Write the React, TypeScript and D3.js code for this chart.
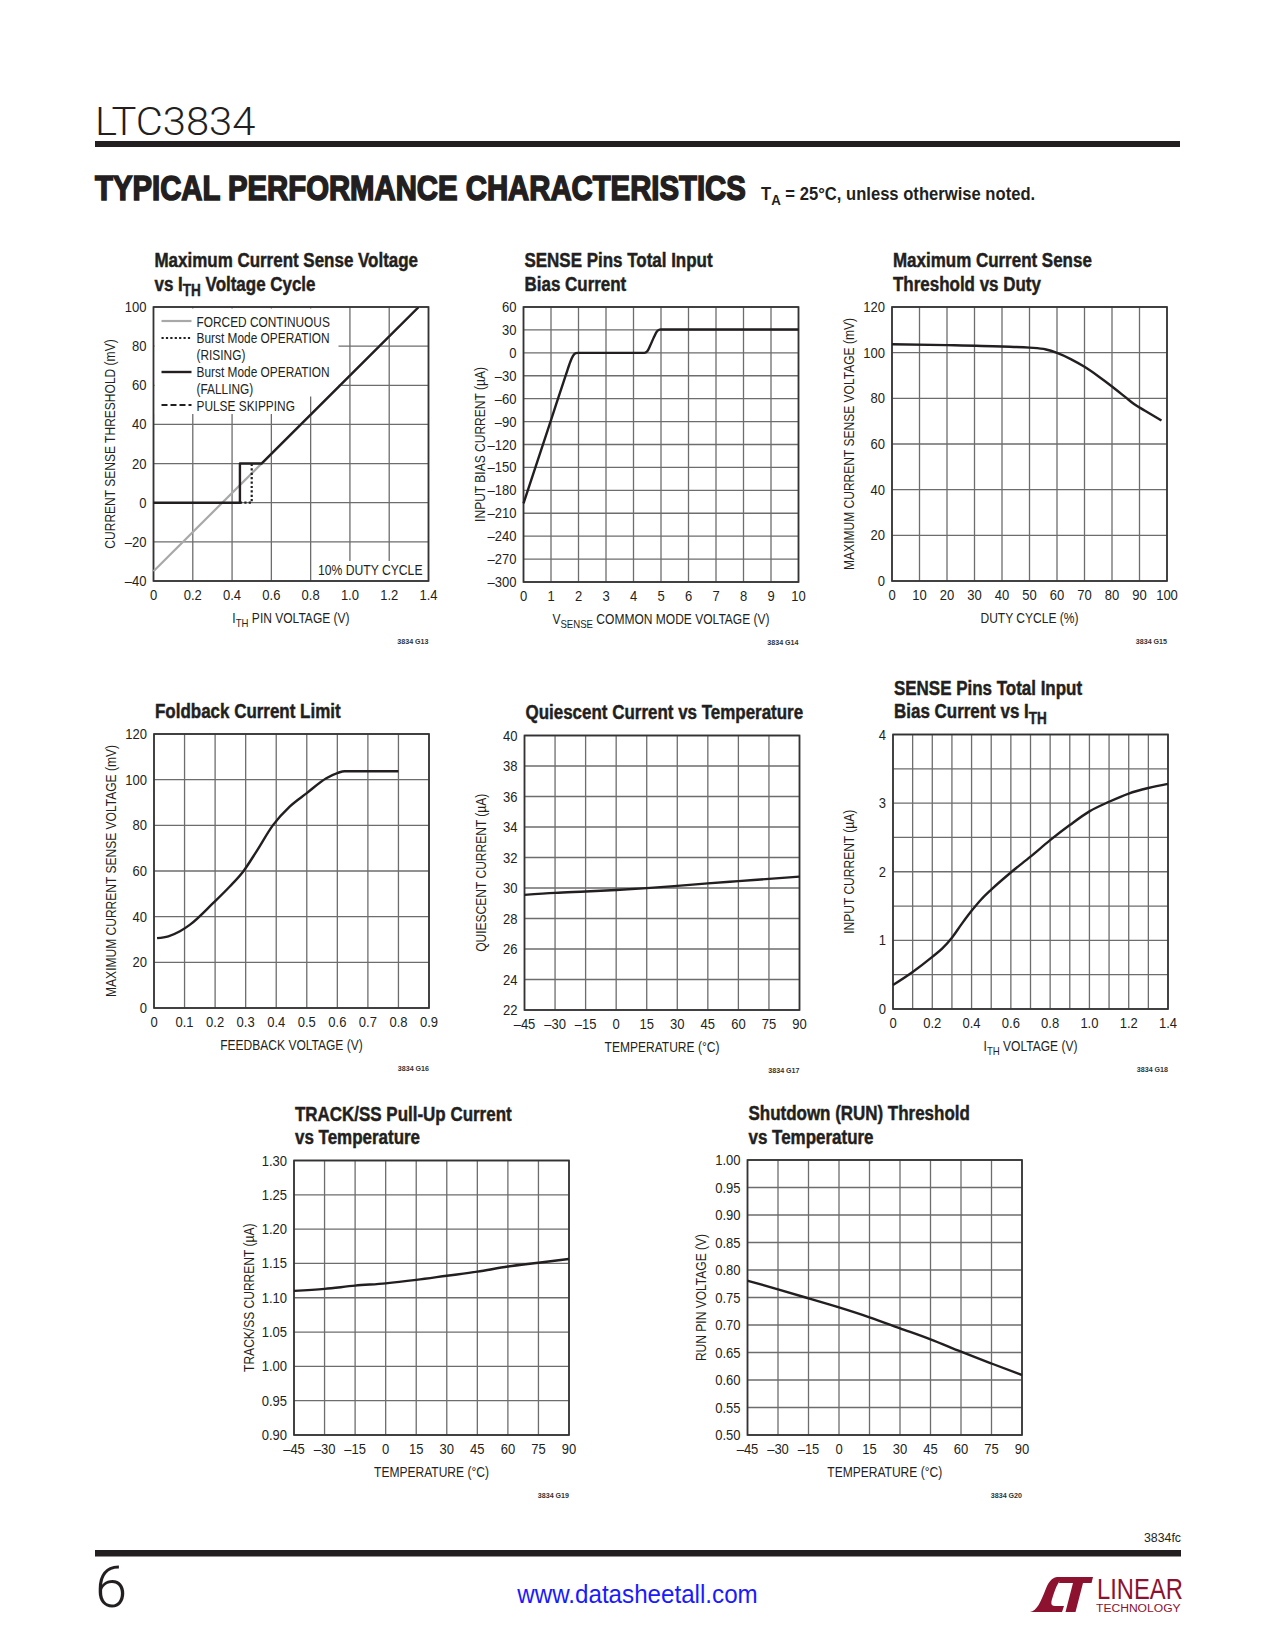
import React from 'react';
import * as d3 from 'd3';

const SANS = "'Liberation Sans', Arimo, Arial, Helvetica, sans-serif";
const INK = '#231f20';

// ---------- G13: Maximum Current Sense Voltage vs ITH ----------
const g13XTicks = [0, 0.2, 0.4, 0.6, 0.8, 1.0, 1.2, 1.4];
const g13XLabels = ['0', '0.2', '0.4', '0.6', '0.8', '1.0', '1.2', '1.4'];
const g13YTicks = [-40, -20, 0, 20, 40, 60, 80, 100];
const g13YLabels = ['–40', '–20', '0', '20', '40', '60', '80', '100'];
const g13ForcedV = [0, 1.35];
const g13ForcedMV = [-35, 100];
const g13FallV = [0, 0.44, 0.44, 0.55, 1.35];
const g13FallMV = [0, 0, 20, 20, 100];
const g13RiseV = [0.44, 0.5, 0.5];
const g13RiseMV = [0, 0, 20];
const g13Legend = ['FORCED CONTINUOUS', 'Burst Mode OPERATION', '(RISING)', 'Burst Mode OPERATION', '(FALLING)', 'PULSE SKIPPING'];

// ---------- G14: SENSE pins bias current vs VSENSE ----------
const g14XTicks = [0, 1, 2, 3, 4, 5, 6, 7, 8, 9, 10];
const g14XLabels = ['0', '1', '2', '3', '4', '5', '6', '7', '8', '9', '10'];
const g14YTicks = [-300, -270, -240, -210, -180, -150, -120, -90, -60, -30, 0, 30, 60];
const g14YLabels = ['–300', '–270', '–240', '–210', '–180', '–150', '–120', '–90', '–60', '–30', '0', '30', '60'];
const g14V = [0, 1, 1.55, 1.7, 1.8, 1.9, 2.0, 4.4, 4.5, 4.6, 4.75, 4.85, 4.95, 5.0, 10];
const g14I = [-197, -88, -28, -12, -4, -0.5, 0, 0, 2, 9, 21, 28, 30.3, 30.6, 30.6];

// ---------- G15: Max current sense threshold vs duty ----------
const g15XTicks = [0, 10, 20, 30, 40, 50, 60, 70, 80, 90, 100];
const g15XLabels = ['0', '10', '20', '30', '40', '50', '60', '70', '80', '90', '100'];
const g15YTicks = [0, 20, 40, 60, 80, 100, 120];
const g15YLabels = ['0', '20', '40', '60', '80', '100', '120'];
const g15Duty = [0, 20, 40, 50, 56, 60, 65, 70, 75, 80, 85, 88, 92, 98];
const g15MV = [103.7, 103.3, 102.7, 102.2, 101.4, 99.9, 97.2, 93.8, 89.7, 85.2, 80.4, 77.5, 74.6, 70.3];

// ---------- G16: Foldback current limit ----------
const g16XTicks = [0, 0.1, 0.2, 0.3, 0.4, 0.5, 0.6, 0.7, 0.8, 0.9];
const g16XLabels = ['0', '0.1', '0.2', '0.3', '0.4', '0.5', '0.6', '0.7', '0.8', '0.9'];
const g16YTicks = [0, 20, 40, 60, 80, 100, 120];
const g16YLabels = ['0', '20', '40', '60', '80', '100', '120'];
const g16Fb = [0.01, 0.047, 0.085, 0.118, 0.194, 0.248, 0.292, 0.335, 0.39, 0.444, 0.499, 0.564, 0.602, 0.624, 0.8];
const g16MV = [30.6, 31.4, 33.6, 36.5, 46, 53.2, 59.8, 68.5, 80.2, 88.2, 94, 100.6, 103, 103.7, 103.7];

// ---------- Temperature axis shared ----------
const tempTicks = [-45, -30, -15, 0, 15, 30, 45, 60, 75, 90];
const tempLabels = ['–45', '–30', '–15', '0', '15', '30', '45', '60', '75', '90'];

// ---------- G17: Quiescent current vs temperature ----------
const g17YTicks = [22, 24, 26, 28, 30, 32, 34, 36, 38, 40];
const g17YLabels = ['22', '24', '26', '28', '30', '32', '34', '36', '38', '40'];
const g17T = [-45, -30, -15, 0, 15, 30, 45, 60, 75, 90];
const g17I = [29.55, 29.68, 29.77, 29.87, 29.99, 30.14, 30.3, 30.45, 30.6, 30.75];

// ---------- G18: SENSE pins bias current vs ITH ----------
const g18XGrid = [0, 0.1, 0.2, 0.3, 0.4, 0.5, 0.6, 0.7, 0.8, 0.9, 1.0, 1.1, 1.2, 1.3, 1.4];
const g18XTicks = [0, 0.2, 0.4, 0.6, 0.8, 1.0, 1.2, 1.4];
const g18XLabels = ['0', '0.2', '0.4', '0.6', '0.8', '1.0', '1.2', '1.4'];
const g18YGrid = [0, 0.5, 1, 1.5, 2, 2.5, 3, 3.5, 4];
const g18YTicks = [0, 1, 2, 3, 4];
const g18YLabels = ['0', '1', '2', '3', '4'];
const g18V = [0, 0.1, 0.2, 0.25, 0.3, 0.35, 0.4, 0.45, 0.5, 0.6, 0.7, 0.8, 0.9, 1.0, 1.1, 1.2, 1.3, 1.4];
const g18I = [0.35, 0.54, 0.76, 0.88, 1.04, 1.24, 1.43, 1.6, 1.74, 1.99, 2.22, 2.46, 2.68, 2.88, 3.02, 3.14, 3.22, 3.28];

// ---------- G19: TRACK/SS pull-up current vs temperature ----------
const g19YTicks = [0.9, 0.95, 1.0, 1.05, 1.1, 1.15, 1.2, 1.25, 1.3];
const g19YLabels = ['0.90', '0.95', '1.00', '1.05', '1.10', '1.15', '1.20', '1.25', '1.30'];
const g19T = [-45, -30, -15, 0, 15, 30, 45, 60, 75, 90];
const g19I = [1.110, 1.113, 1.1176, 1.121, 1.126, 1.132, 1.138, 1.1455, 1.151, 1.1566];

// ---------- G20: RUN threshold vs temperature ----------
const g20YTicks = [0.5, 0.55, 0.6, 0.65, 0.7, 0.75, 0.8, 0.85, 0.9, 0.95, 1.0];
const g20YLabels = ['0.50', '0.55', '0.60', '0.65', '0.70', '0.75', '0.80', '0.85', '0.90', '0.95', '1.00'];
const g20T = [-45, -30, -15, 0, 15, 30, 45, 60, 75, 90];
const g20V = [0.7806, 0.7648, 0.7485, 0.732, 0.714, 0.694, 0.674, 0.6515, 0.630, 0.609];

type Seg = { t: string; sub?: boolean };
const s = (t: string, sub = false): Seg => ({ t, sub });

// Text drawn with a horizontal compression (condensed look) around its anchor point
function RichText(props: any) {
  const { segs, x, y, size, anchor = 'start', weight = 'normal', fill = INK, family = SANS,
    sx = 0.85, rotate = 0, dy, strokeW } = props;
  const sh = size * 0.3;
  let cur = 0;
  const tr = `translate(${x},${y})${rotate ? ` rotate(${rotate})` : ''} scale(${sx},1)`;
  return (
    <g transform={tr}>
      <text x={0} y={0} dy={dy} fontSize={size} textAnchor={anchor} fontWeight={weight} fill={fill}
        fontFamily={family} stroke={strokeW ? fill : undefined} strokeWidth={strokeW}>
        {segs.map((sg: Seg, i: number) => {
          const target = sg.sub ? sh : 0;
          const d = target - cur;
          cur = target;
          return (
            <tspan key={i} dy={d !== 0 ? d : undefined} fontSize={sg.sub ? size * 0.8 : undefined}>{sg.t}</tspan>
          );
        })}
      </text>
    </g>
  );
}

type SeriesDef = { x: number[]; y: number[]; color: string; width: number; dash?: string; smooth?: boolean };

function Chart(props: any) {
  const { px, py, w, h, xDom, yDom, xGrid, yGrid, xTicks, xLabels, yTicks, yLabels,
    title, xTitle, yTitle, fig, series, yTitleOff = 38.5, under, over } = props;
  const xs = d3.scaleLinear().domain(xDom).range([px, px + w]);
  const ys = d3.scaleLinear().domain(yDom).range([py + h, py]);
  const gridColor = '#6d6d6d';
  return (
    <g>
      {(xGrid || xTicks).map((v: number, i: number) => (
        <line key={'gx' + i} x1={xs(v)} x2={xs(v)} y1={py} y2={py + h} stroke={gridColor} strokeWidth={1.3} />
      ))}
      {(yGrid || yTicks).map((v: number, i: number) => (
        <line key={'gy' + i} x1={px} x2={px + w} y1={ys(v)} y2={ys(v)} stroke={gridColor} strokeWidth={1.3} />
      ))}
      {under ? under(xs, ys) : null}
      <rect x={px} y={py} width={w} height={h} fill="none" stroke="#333" strokeWidth={1.7} />
      {series.map((sr: SeriesDef, i: number) => {
        const pts: [number, number][] = sr.x.map((xv, k) => [xv, sr.y[k]]);
        const gen = d3.line<[number, number]>()
          .x((d) => xs(d[0]))
          .y((d) => ys(d[1]))
          .curve(sr.smooth ? d3.curveMonotoneX : d3.curveLinear);
        return (
          <path key={'s' + i} d={gen(pts) || ''} fill="none" stroke={sr.color} strokeWidth={sr.width}
            strokeDasharray={sr.dash} strokeLinejoin="round" />
        );
      })}
      {over ? over(xs, ys) : null}
      {yTicks.map((v: number, i: number) => (
        <RichText key={'yt' + i} segs={[s(yLabels[i])]} x={px - 7} y={ys(v)} dy="0.36em" anchor="end"
          size={14} sx={0.93} />
      ))}
      {xTicks.map((v: number, i: number) => (
        <RichText key={'xt' + i} segs={[s(xLabels[i])]} x={xs(v)} y={py + h + 19} anchor="middle"
          size={14} sx={0.93} />
      ))}
      <RichText segs={xTitle} x={px + w / 2} y={py + h + 41.5} size={14.5} sx={0.83} anchor="middle" />
      <RichText segs={yTitle} x={px - yTitleOff} y={py + h / 2} size={14.5} sx={0.83} anchor="middle" rotate={-90} />
      {title.map((line: Seg[], i: number) => (
        <RichText key={'t' + i} segs={line} x={px + 1} y={py - 16.5 - (title.length - 1 - i) * 23.3}
          size={19.5} sx={0.87} weight="bold" strokeW={0.45} />
      ))}
      <RichText segs={[s(fig)]} x={px + w} y={py + h + 63} anchor="end" size={7.5} sx={0.95}
        weight="bold" fill="#333" />
    </g>
  );
}

export default function App() {
  const tempDom = [-45, 90];
  const legendY = [326.5, 343, 360, 377, 393.5, 410.5];
  return (
    <svg width={1275} height={1650} viewBox="0 0 1275 1650"
      style={{ position: 'absolute', left: 0, top: 0, background: '#fff' }}>
      <rect x={0} y={0} width={1275} height={1650} fill="#fff" />
      {/* Header */}
      <RichText segs={[s('LTC3834')]} x={95} y={135} size={39} sx={1.07} weight={300}
        family="Roboto, 'DejaVu Sans', sans-serif" />
      <rect x={95} y={141} width={1085} height={6} fill={INK} />
      <RichText segs={[s('TYPICAL PERFORMANCE CHARACTERISTICS')]} x={95} y={200} size={35} sx={0.838}
        weight="bold" strokeW={1.6} />
      <RichText segs={[s('T'), s('A', true), s(' = 25°C, unless otherwise noted.')]} x={761} y={200}
        size={17.5} sx={0.95} weight="bold" />

      {/* G13 */}
      <Chart px={153.5} py={307} w={275} h={274} xDom={[0, 1.4]} yDom={[-40, 100]}
        xTicks={g13XTicks} xLabels={g13XLabels} yTicks={g13YTicks} yLabels={g13YLabels}
        title={[[s('Maximum Current Sense Voltage')], [s('vs I'), s('TH', true), s(' Voltage Cycle')]]}
        xTitle={[s('I'), s('TH', true), s(' PIN VOLTAGE (V)')]}
        yTitle={[s('CURRENT SENSE THRESHOLD (mV)')]} fig="3834 G13"
        under={() => (
          <g>
            <rect x={154.5} y={308.5} width={184} height={88} fill="#fff" />
            <rect x={154.5} y={396} width={154} height={18} fill="#fff" />
            <rect x={313} y={561} width={114} height={19} fill="#fff" />
          </g>
        )}
        series={[
          { x: g13ForcedV, y: g13ForcedMV, color: '#a8a8a8', width: 2.2 },
          { x: g13RiseV, y: g13RiseMV, color: INK, width: 2.2, dash: '2.2,2.2' },
          { x: g13FallV, y: g13FallMV, color: INK, width: 2.4 },
        ]}
        over={() => (
          <g>
            <line x1={161.5} x2={191.5} y1={321} y2={321} stroke="#a8a8a8" strokeWidth={2.2} />
            <line x1={161.5} x2={191.5} y1={338} y2={338} stroke={INK} strokeWidth={2.2} strokeDasharray="2.2,2.2" />
            <line x1={161.5} x2={191.5} y1={372} y2={372} stroke={INK} strokeWidth={2.4} />
            <line x1={161.5} x2={191.5} y1={405} y2={405} stroke={INK} strokeWidth={2.2} strokeDasharray="6,3" />
            {g13Legend.map((t, i) => (
              <RichText key={i} segs={[s(t)]} x={196.5} y={legendY[i]} size={14.5} sx={0.82} />
            ))}
            <RichText segs={[s('10% DUTY CYCLE')]} x={422.5} y={575} anchor="end" size={14.5} sx={0.84} />
          </g>
        )}
      />

      {/* G14 */}
      <Chart px={523.5} py={307} w={275} h={275} xDom={[0, 10]} yDom={[-300, 60]}
        xTicks={g14XTicks} xLabels={g14XLabels} yTicks={g14YTicks} yLabels={g14YLabels}
        title={[[s('SENSE Pins Total Input')], [s('Bias Current')]]}
        xTitle={[s('V'), s('SENSE', true), s(' COMMON MODE VOLTAGE (V)')]}
        yTitle={[s('INPUT BIAS CURRENT (µA)')]} fig="3834 G14"
        series={[{ x: g14V, y: g14I, color: INK, width: 2.4, smooth: true }]}
      />

      {/* G15 */}
      <Chart px={892} py={307} w={275} h={274} xDom={[0, 100]} yDom={[0, 120]}
        xTicks={g15XTicks} xLabels={g15XLabels} yTicks={g15YTicks} yLabels={g15YLabels}
        title={[[s('Maximum Current Sense')], [s('Threshold vs Duty')]]}
        xTitle={[s('DUTY CYCLE (%)')]}
        yTitle={[s('MAXIMUM CURRENT SENSE VOLTAGE (mV)')]} fig="3834 G15"
        series={[{ x: g15Duty, y: g15MV, color: INK, width: 2.4, smooth: true }]}
      />

      {/* G16 */}
      <Chart px={154} py={734} w={275} h={274} xDom={[0, 0.9]} yDom={[0, 120]}
        xTicks={g16XTicks} xLabels={g16XLabels} yTicks={g16YTicks} yLabels={g16YLabels}
        title={[[s('Foldback Current Limit')]]}
        xTitle={[s('FEEDBACK VOLTAGE (V)')]}
        yTitle={[s('MAXIMUM CURRENT SENSE VOLTAGE (mV)')]} fig="3834 G16"
        series={[{ x: g16Fb, y: g16MV, color: INK, width: 2.4, smooth: true }]}
      />

      {/* G17 */}
      <Chart px={524.5} py={735.5} w={275} h={274.5} xDom={tempDom} yDom={[22, 40]}
        xTicks={tempTicks} xLabels={tempLabels} yTicks={g17YTicks} yLabels={g17YLabels}
        title={[[s('Quiescent Current vs Temperature')]]}
        xTitle={[s('TEMPERATURE (°C)')]}
        yTitle={[s('QUIESCENT CURRENT (µA)')]} fig="3834 G17"
        series={[{ x: g17T, y: g17I, color: INK, width: 2.4, smooth: true }]}
      />

      {/* G18 */}
      <Chart px={893} py={734.5} w={275} h={274.5} xDom={[0, 1.4]} yDom={[0, 4]}
        xGrid={g18XGrid} yGrid={g18YGrid}
        xTicks={g18XTicks} xLabels={g18XLabels} yTicks={g18YTicks} yLabels={g18YLabels}
        title={[[s('SENSE Pins Total Input')], [s('Bias Current vs I'), s('TH', true)]]}
        xTitle={[s('I'), s('TH', true), s(' VOLTAGE (V)')]}
        yTitle={[s('INPUT CURRENT (µA)')]} yTitleOff={39.5} fig="3834 G18"
        series={[{ x: g18V, y: g18I, color: INK, width: 2.4, smooth: true }]}
      />

      {/* G19 */}
      <Chart px={294} py={1160.5} w={275} h={274.5} xDom={tempDom} yDom={[0.9, 1.3]}
        xTicks={tempTicks} xLabels={tempLabels} yTicks={g19YTicks} yLabels={g19YLabels}
        title={[[s('TRACK/SS Pull-Up Current')], [s('vs Temperature')]]}
        xTitle={[s('TEMPERATURE (°C)')]}
        yTitle={[s('TRACK/SS CURRENT (µA)')]} yTitleOff={40.5} fig="3834 G19"
        series={[{ x: g19T, y: g19I, color: INK, width: 2.4, smooth: true }]}
      />

      {/* G20 */}
      <Chart px={747.5} py={1160} w={274.5} h={275} xDom={tempDom} yDom={[0.5, 1.0]}
        xTicks={tempTicks} xLabels={tempLabels} yTicks={g20YTicks} yLabels={g20YLabels}
        title={[[s('Shutdown (RUN) Threshold')], [s('vs Temperature')]]}
        xTitle={[s('TEMPERATURE (°C)')]}
        yTitle={[s('RUN PIN  VOLTAGE (V)')]} yTitleOff={42} fig="3834 G20"
        series={[{ x: g20T, y: g20V, color: INK, width: 2.4, smooth: true }]}
      />

      {/* Footer */}
      <RichText segs={[s('3834fc')]} x={1181} y={1541.5} anchor="end" size={13} sx={0.95} />
      <rect x={95} y={1550} width={1086} height={6.5} fill={INK} />
      <RichText segs={[s('6')]} x={95} y={1607} size={58} sx={1} weight={300}
        family="Roboto, 'DejaVu Sans', sans-serif" />
      <RichText segs={[s('www.datasheetall.com')]} x={637.5} y={1603} anchor="middle" size={26} sx={0.93}
        fill="#1a1aff" />
      <g transform="translate(1030,1577)" fill="#8c1230">
        <path d="M0,35 C7,34 11,24 15,14 C18,6 21,1 27,0 L35,0 C29,2 26,10 23,19 C21,25 20,29 25,29 L34,29 L32,35 Z" />
        <path d="M30,0 L63,0 L61.5,6 L53,6 L45.5,35 L35.5,35 L43,6 L29,6 Z" />
      </g>
      <RichText segs={[s('LINEAR')]} x={1097} y={1598.5} size={29} sx={0.82} fill="#8c1230" />
      <RichText segs={[s('TECHNOLOGY')]} x={1096} y={1611.5} size={11} sx={1.1} fill="#8c1230" />
    </svg>
  );
}
